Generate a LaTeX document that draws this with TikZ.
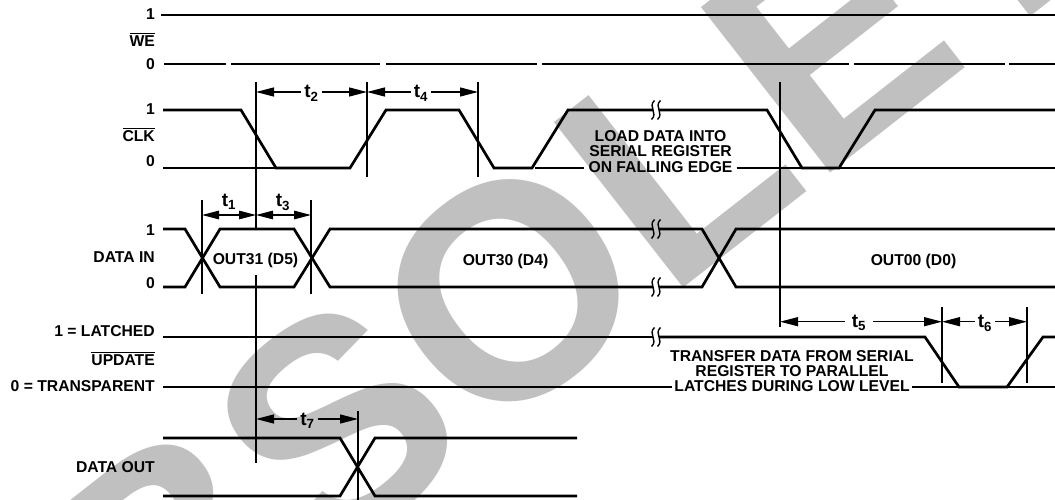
\documentclass[tikz,border=0pt]{standalone}
\usepackage{fontspec}
\setmainfont{Liberation Sans}
\usetikzlibrary{arrows.meta}
\definecolor{wm}{RGB}{192,192,192}
\newcommand\ovl[1]{\leavevmode\vbox{\hrule height 1.4pt\kern 1.8pt\hbox{#1}}}
\tikzset{
  sig/.style={line width=2.7pt},
  thinln/.style={line width=1.3pt},
  mk/.style={line width=1.3pt},
  dim/.style={line width=1.3pt,-{Triangle[length=18pt,width=9pt]}},
  dimboth/.style={line width=1.3pt,{Triangle[length=17pt,width=8.5pt]}-{Triangle[length=17pt,width=8.5pt]}},
  lbl/.style={font=\fontsize{15.7}{18}\selectfont\bfseries,inner sep=0pt},
  tlab/.style={font=\fontsize{19}{22}\selectfont\bfseries,inner sep=3pt,anchor=base},
  brk/.style={line width=1.4pt},
  brkmark/.pic={\draw[brk] (1.5,-9.5) .. controls (-5.5,-3) and (5.5,3) .. (-1.5,9.5);}
}
\begin{document}
\begin{tikzpicture}[x=1pt,y=-1pt]
\fill[white] (0,0) rectangle (1055,500);
\useasboundingbox (0,0) rectangle (1055,500);
% watermark
\begin{scope}
\clip (0,0) rectangle (1055,500);
\node[text=wm,rotate=38,inner sep=0pt,font=\fontsize{305}{305}\selectfont\bfseries] (wmk) at (556,254) {OBSOLETE};
\end{scope}

% ---------- labels on the left ----------
\node[lbl,anchor=base east] (we1) at (155,20) {1};
\node[lbl,anchor=base east] (wen) at (155,47) {\ovl{WE}};
\node[lbl,anchor=base east] (we0) at (155,70) {0};
\node[lbl,anchor=base east] (ck1) at (155,115) {1};
\node[lbl,anchor=base east] (ckn) at (155,141.7) {\ovl{CLK}};
\node[lbl,anchor=base east] (ck0) at (155,166.7) {0};
\node[lbl,anchor=base east] (di1) at (155,235) {1};
\node[lbl,anchor=base east] (din) at (155,262.7) {DATA IN};
\node[lbl,anchor=base east] (di0) at (155,288) {0};
\node[lbl,anchor=base east] (up1) at (155,336.7) {1 = LATCHED};
\node[lbl,anchor=base east] (upn) at (155,365.5) {\ovl{UPDATE}};
\node[lbl,anchor=base east] (up0) at (155,391.7) {0 = TRANSPARENT};
\node[lbl,anchor=base east] (dout) at (155,472) {DATA OUT};

% ---------- texts in the diagram ----------
\node[lbl,anchor=base] (load1) at (660.5,141.7) {LOAD DATA INTO};
\node[lbl,anchor=base] (load2) at (660.5,156.7) {SERIAL REGISTER};
\node[lbl,anchor=base,inner sep=4pt] (load3) at (660.5,172) {ON FALLING EDGE};
\node[lbl,anchor=base] (xfer1) at (792,361.7) {TRANSFER DATA FROM SERIAL};
\node[lbl,anchor=base] (xfer2) at (792,376.7) {REGISTER TO PARALLEL};
\node[lbl,anchor=base,inner sep=2.5pt] (xfer3) at (792,391.7) {LATCHES DURING LOW LEVEL};
\node[lbl,anchor=base] (o31) at (255.5,264) {OUT31 (D5)};
\node[lbl,anchor=base] (o30) at (505.5,265) {OUT30 (D4)};
\node[lbl,anchor=base] (o00) at (913.5,265) {OUT00 (D0)};

\coordinate (clk0) at (0,168);
\coordinate (upd0) at (0,387);

% ---------- WE ----------
\draw[sig] (161,15) -- (1056,15);
\draw[thinln] (164,64) -- (226,64) (231,64) -- (380,64) (386,64) -- (537,64)
  (542,64) -- (849,64) (854,64) -- (1005,64) (1009,64) -- (1056,64);

% ---------- CLK ----------
\draw[sig] (163,110) -- (241,110) -- (276,168) -- (350,168) -- (386,110) -- (459,110)
  -- (494,168) -- (532,168) -- (568,110) -- (653,110);
\draw[sig] (659,110) -- (767,110) -- (802,168) -- (839,168) -- (875,110) -- (1056,110);
\draw[thinln] (163,168) -- (276,168);
\draw[thinln] (535,168) -- (load3.west |- clk0);
\draw[thinln] (load3.east |- clk0) -- (802,168);
\draw[thinln] (839,168) -- (1056,168);
\pic at (653,110) {brkmark};
\pic at (659,110) {brkmark};

% ---------- DATA IN ----------
\draw[sig] (163,229) -- (185,229) -- (220,287) -- (294,287) -- (330,229) -- (653,229);
\draw[sig] (659,229) -- (702,229) -- (736,287) -- (1056,287);
\draw[sig] (163,287) -- (185,287) -- (220,229) -- (294,229) -- (330,287) -- (653,287);
\draw[sig] (659,287) -- (702,287) -- (736,229) -- (1056,229);
\pic at (653,229) {brkmark};
\pic at (659,229) {brkmark};
\pic at (653,287) {brkmark};
\pic at (659,287) {brkmark};

% ---------- UPDATE ----------
\draw[sig] (163,337) -- (653,337);
\draw[sig] (659,337) -- (925,337) -- (959,387) -- (1007,387) -- (1043,337) -- (1056,337);
\pic at (653,337) {brkmark};
\pic at (659,337) {brkmark};
\draw[sig] (163,387) -- (xfer3.west |- upd0);
\draw[sig] (xfer3.east |- upd0) -- (943,387);
\draw[thinln] (943,387) -- (959,387);
\draw[thinln] (1007,387) -- (1027,387);
\draw[sig] (1027,387) -- (1056,387);

% ---------- DATA OUT ----------
\draw[sig] (163,438) -- (340,438) -- (375,496) -- (577,496);
\draw[sig] (163,496) -- (340,496) -- (375,438) -- (577,438);

% ---------- timing markers ----------
\draw[mk] (202,200) -- (202,294);
\draw[mk] (256,82) -- (256,230);
\draw[mk] (256,275) -- (256,463);
\draw[mk] (311,200) -- (311,294);
\draw[mk] (367,82) -- (367,177);
\draw[mk] (478,82) -- (478,177);
\draw[mk] (780,82) -- (780,327);
\draw[mk] (942,307) -- (942,383);
\draw[mk] (1027,307) -- (1027,383);
\draw[mk] (358,411) -- (358,500);

% ---------- timing arrows ----------
\coordinate (a1l) at (202,215);
\coordinate (a1m) at (256,215);
\coordinate (a3r) at (311,215);
\node[tlab] (t1) at (229,206.7) {t\textsubscript{1}};
\node[tlab] (t3) at (283,206.7) {t\textsubscript{3}};
\draw[dimboth] (a1l) -- (a1m);
\draw[dimboth] (a1m) -- (a3r);

\coordinate (a2l) at (256,92);
\coordinate (a2r) at (367,92);
\coordinate (a4r) at (478,92);
\node[tlab] (t2) at (311.5,98) {t\textsubscript{2}};
\node[tlab] (t4) at (421,98) {t\textsubscript{4}};
\draw[dim] (t2.west |- a2l) -- (a2l);
\draw[dim] (t2.east |- a2r) -- (a2r);
\draw[dim] (t4.west |- a2r) -- (a2r);
\draw[dim] (t4.east |- a4r) -- (a4r);

\coordinate (a5l) at (780,321.7);
\coordinate (a5r) at (942,321.7);
\coordinate (a6r) at (1027,321.7);
\node[tlab,inner sep=7pt] (t5) at (859,327.7) {t\textsubscript{5}};
\node[tlab] (t6) at (985,327.7) {t\textsubscript{6}};
\draw[dim] (t5.west |- a5l) -- (a5l);
\draw[dim] (t5.east |- a5r) -- (a5r);
\draw[dim] (t6.west |- a5r) -- (a5r);
\draw[dim] (t6.east |- a6r) -- (a6r);

\coordinate (a7l) at (256,419);
\coordinate (a7r) at (358,419);
\node[tlab] (t7) at (307.5,425) {t\textsubscript{7}};
\draw[dim] (t7.west |- a7l) -- (a7l);
\draw[dim] (t7.east |- a7r) -- (a7r);
\end{tikzpicture}
\end{document}
